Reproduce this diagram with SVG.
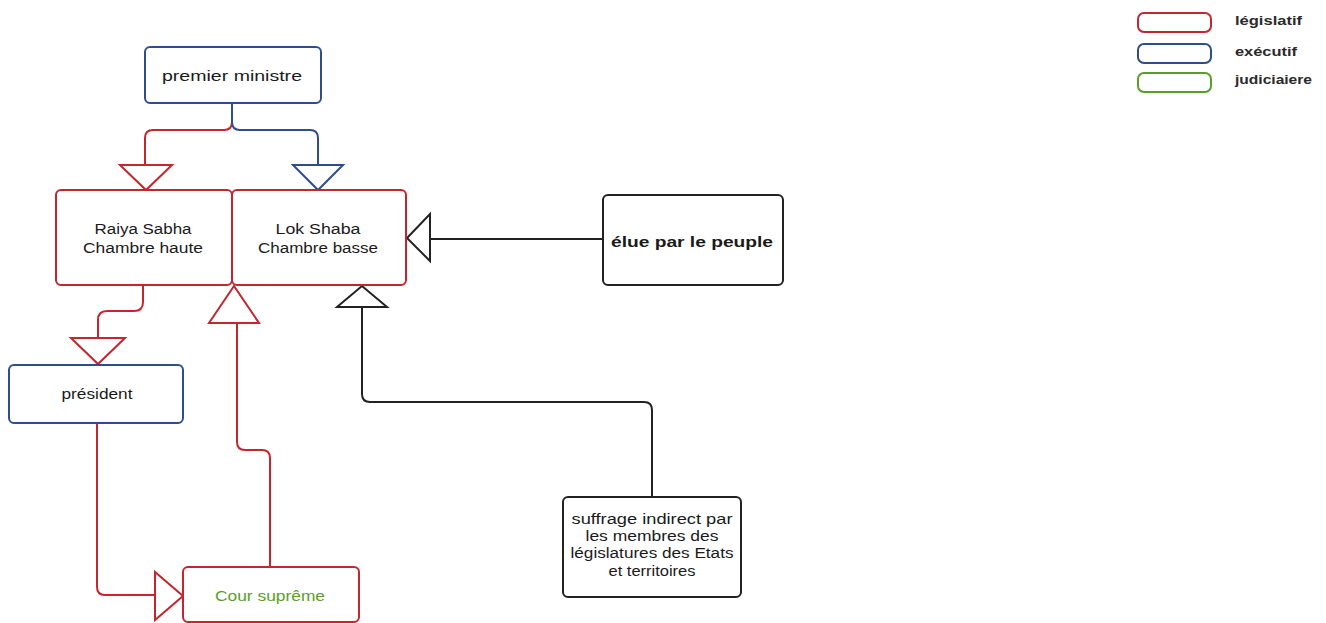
<svg xmlns="http://www.w3.org/2000/svg" width="1326" height="623" viewBox="0 0 1326 623">
<style>
  .box{fill:#fff;stroke-width:2}
  .red{stroke:#c4262e}
  .blue{stroke:#2e4d8c}
  .green{stroke:#5a9e2a}
  .black{stroke:#222}
  .t{font-family:"Liberation Sans",Arial,sans-serif;font-size:14px;fill:#1a1a1a;text-anchor:middle}
  .tb{font-weight:bold}
  .lg{font-family:"Liberation Sans",Arial,sans-serif;font-size:12px;font-weight:bold;fill:#2a2a2a}
  .ln{fill:none;stroke-width:2}
  .ar{fill:#fff;stroke-width:2;stroke-linejoin:miter}
</style>
<rect width="1326" height="623" fill="#fff"/>
<g id="connectors">
  <path class="ln red" d="M232,103 V122 Q232,130 224,130 H153 Q145,130 145,138 V165"/>
  <path class="ln blue" d="M232,103 V122 Q232,130 240,130 H310 Q318,130 318,138 V165"/>
  <polygon class="ar red" points="120,165 172,165 146,190"/>
  <polygon class="ar blue" points="293,165 343,165 318,190"/>
  <path class="ln red" d="M143,285 V302 Q143,311 134,311 H107 Q98,311 98,320 V338"/>
  <polygon class="ar red" points="71,338 125,338 98,364"/>
  <path class="ln red" d="M97,423 V587 Q97,595 105,595 H155"/>
  <polygon class="ar red" points="155,572 155,620 183,596"/>
  <path class="ln red" d="M270,567 V458 Q270,450 262,450 H245 Q237,450 237,442 V323"/>
  <polygon class="ar red" points="209,323 259,323 234,286"/>
  <path class="ln black" d="M603,239 H430"/>
  <polygon class="ar black" points="430,214 430,261 407,238"/>
  <path class="ln black" d="M652,497 V410 Q652,402 644,402 H370 Q362,402 362,394 V307"/>
  <polygon class="ar black" points="337,307 387,307 362,286"/>
</g>
<g id="premier-ministre">
  <rect class="box blue" x="145" y="47" width="176" height="56" rx="5"/>
  <text class="t" x="232" y="81" textLength="140" lengthAdjust="spacingAndGlyphs">premier ministre</text>
</g>
<g id="raiya-sabha">
  <rect class="box red" x="56" y="190" width="176" height="95" rx="5"/>
  <text class="t" x="143" y="234" textLength="97" lengthAdjust="spacingAndGlyphs">Raiya Sabha</text>
  <text class="t" x="143" y="253" textLength="120" lengthAdjust="spacingAndGlyphs">Chambre haute</text>
</g>
<g id="lok-shaba">
  <rect class="box red" x="232" y="190" width="174" height="95" rx="5"/>
  <text class="t" x="318" y="234" textLength="85" lengthAdjust="spacingAndGlyphs">Lok Shaba</text>
  <text class="t" x="318" y="253" textLength="120" lengthAdjust="spacingAndGlyphs">Chambre basse</text>
</g>
<g id="elue-par-le-peuple">
  <rect class="box black" x="603" y="195" width="180" height="90" rx="5"/>
  <text class="t tb" x="692" y="247" textLength="162" lengthAdjust="spacingAndGlyphs">élue par le peuple</text>
</g>
<g id="president">
  <rect class="box blue" x="9" y="365" width="174" height="58" rx="5"/>
  <text class="t" x="97" y="399" textLength="71" lengthAdjust="spacingAndGlyphs">président</text>
</g>
<g id="cour-supreme">
  <rect class="box red" x="183" y="567" width="176" height="55" rx="5"/>
  <text class="t" x="270" y="601" textLength="110" lengthAdjust="spacingAndGlyphs" style="fill:#5a9e2a">Cour suprême</text>
</g>
<g id="suffrage-indirect">
  <rect class="box black" x="563" y="497" width="178" height="100" rx="5"/>
  <text class="t" x="652" y="524" textLength="161" lengthAdjust="spacingAndGlyphs">suffrage indirect par</text>
  <text class="t" x="652" y="541" textLength="133" lengthAdjust="spacingAndGlyphs">les membres des</text>
  <text class="t" x="652" y="558" textLength="163" lengthAdjust="spacingAndGlyphs">législatures des Etats</text>
  <text class="t" x="652" y="576" textLength="87" lengthAdjust="spacingAndGlyphs">et territoires</text>
</g>
<g id="legend">
  <rect class="box red" x="1138" y="13" width="73" height="19" rx="6"/>
  <rect class="box blue" x="1138" y="44" width="73" height="19" rx="6"/>
  <rect class="box green" x="1138" y="73" width="73" height="19" rx="6"/>
  <text class="lg" x="1235" y="25" textLength="67" lengthAdjust="spacingAndGlyphs">législatif</text>
  <text class="lg" x="1235" y="56" textLength="62" lengthAdjust="spacingAndGlyphs">exécutif</text>
  <text class="lg" x="1235" y="84" textLength="77" lengthAdjust="spacingAndGlyphs">judiciaiere</text>
</g>
</svg>
